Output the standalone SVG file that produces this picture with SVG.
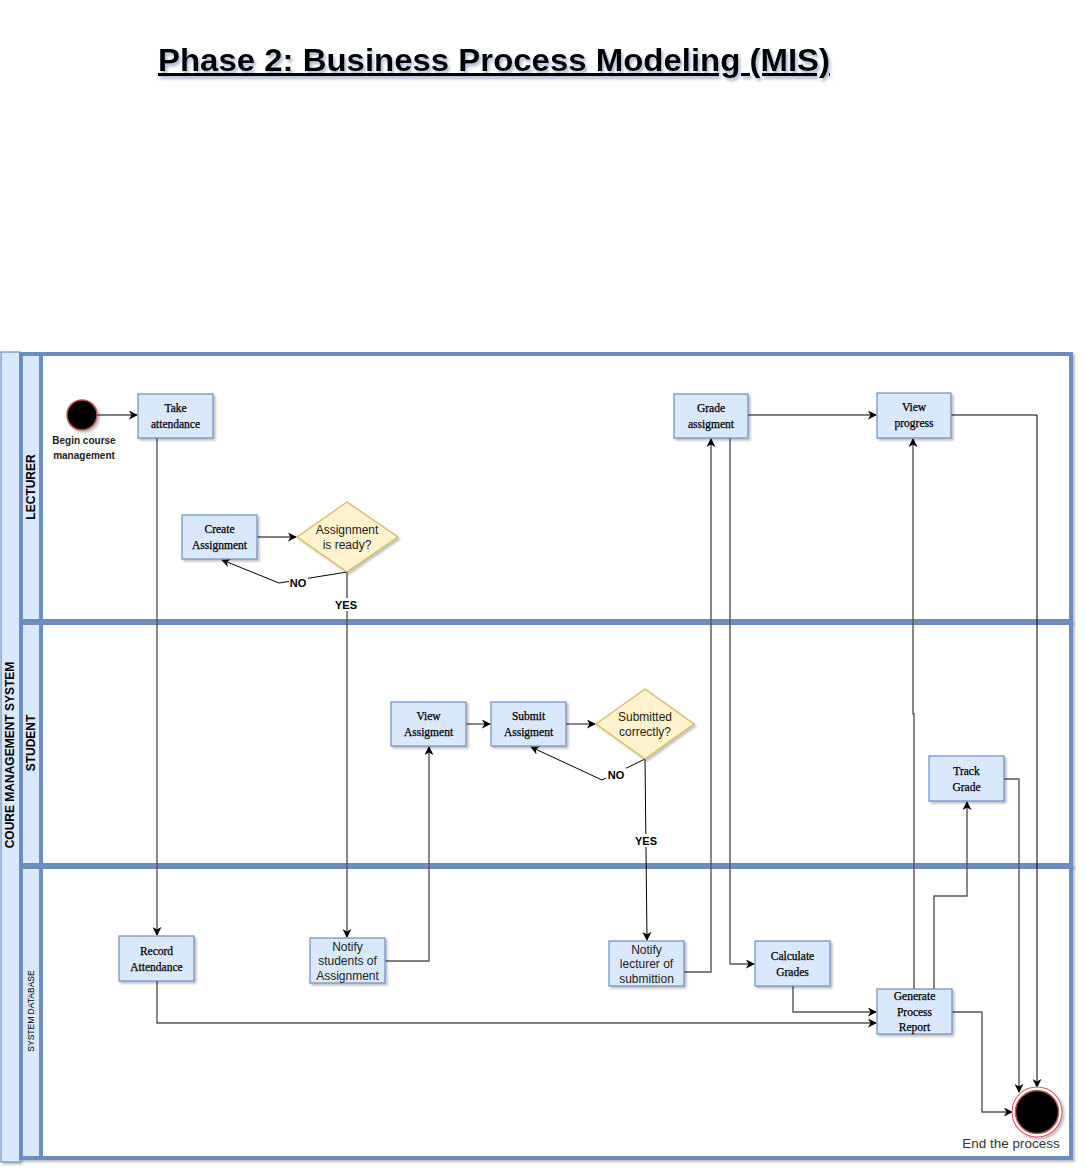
<svg xmlns="http://www.w3.org/2000/svg" width="1086" height="1175" viewBox="0 0 1086 1175">
<defs>
<filter id="sh" x="-10%" y="-10%" width="130%" height="130%">
<feDropShadow dx="2" dy="2" stdDeviation="1.2" flood-color="#000" flood-opacity="0.25"/>
</filter>
<filter id="tsh" x="-5%" y="-20%" width="110%" height="160%">
<feDropShadow dx="2" dy="3" stdDeviation="1.5" flood-color="#6a7fb0" flood-opacity="0.55"/>
</filter>
<marker id="ar" viewBox="0 0 10 10" refX="9" refY="5" markerWidth="9" markerHeight="9" markerUnits="userSpaceOnUse" orient="auto">
<path d="M0,0 L10,5 L0,10 L3,5 Z" fill="#000"/>
</marker>
</defs>
<style>
.lane{fill:#fff;stroke:#6c8ebf;stroke-width:4;filter:url(#sh)}
.hdr{fill:#dae8fc;stroke:#6c8ebf;stroke-width:4}
.box{fill:#dae8fc;stroke:#6c8ebf;stroke-width:1.2;filter:url(#sh)}
.dia{fill:#fff2cc;stroke:#d6b656;stroke-width:1.2;filter:url(#sh)}
.st{font-family:"Liberation Serif","DejaVu Serif",serif;font-size:11.5px;fill:#000;stroke:#000;stroke-width:0.25;text-anchor:middle}
.ss{font-family:"Liberation Sans",Arial,sans-serif;font-size:12px;fill:#222;text-anchor:middle}
.lbl{font-family:"Liberation Sans",Arial,sans-serif;font-size:11px;font-weight:bold;fill:#000;text-anchor:middle}
.c{fill:none;stroke:#555;stroke-width:1.4;marker-end:url(#ar)}
.cb{fill:none;stroke:#000;stroke-width:1;marker-end:url(#ar)}
</style>
<rect width="1086" height="1175" fill="#fff"/>
<text x="494" y="71" font-family="Liberation Sans,Arial,sans-serif" font-size="31" font-weight="bold" text-anchor="middle" text-decoration="underline" textLength="672" lengthAdjust="spacingAndGlyphs" filter="url(#tsh)">Phase 2: Business Process Modeling (MIS)</text>

<g id="pool">
<rect x="1" y="352" width="19" height="810" fill="#dae8fc" stroke="#6c8ebf" stroke-width="1.2" filter="url(#sh)"/>
<text transform="translate(14,755) rotate(-90)" font-family="Liberation Sans,Arial,sans-serif" font-size="12" font-weight="bold" text-anchor="middle">COURE MANAGEMENT SYSTEM</text>
</g>
<g id="lane-lecturer">
<rect class="lane" x="21" y="354" width="1050" height="267"/>
<rect class="hdr" x="21" y="354" width="20" height="267"/>
<text transform="translate(35,487) rotate(-90)" font-family="Liberation Sans,Arial,sans-serif" font-size="12" font-weight="bold" text-anchor="middle">LECTURER</text>
</g>
<g id="lane-student">
<rect class="lane" x="21" y="623" width="1050" height="242"/>
<rect class="hdr" x="21" y="623" width="20" height="242"/>
<text transform="translate(35,743) rotate(-90)" font-family="Liberation Sans,Arial,sans-serif" font-size="12" font-weight="bold" text-anchor="middle">STUDENT</text>
</g>
<g id="lane-database">
<rect class="lane" x="21" y="867" width="1050" height="291"/>
<rect class="hdr" x="21" y="867" width="20" height="291"/>
<text transform="translate(34,1011) rotate(-90)" font-family="Liberation Sans,Arial,sans-serif" font-size="8.5" text-anchor="middle">SYSTEM DATABASE</text>
</g>

<g id="connectors">
<path class="cb" d="M97,415 H137"/>
<path class="c" d="M157,438 V935"/>
<path class="c" d="M257,537 H296"/>
<path class="cb" d="M347,572 L279,583 L222,560"/>
<path class="c" d="M347,572 V937"/>
<path class="c" d="M385,961 H429 V747"/>
<path class="c" d="M466,724 H490"/>
<path class="c" d="M566,724 H595"/>
<path class="cb" d="M645,759 L602,780 L531,747"/>
<path class="cb" d="M645,759 L647,940"/>
<path class="c" d="M684,972 H711 V439"/>
<path class="c" d="M730,438 V964 H754"/>
<path class="c" d="M748,415 H876"/>
<path class="c" d="M793,986 V1012 H876"/>
<path class="c" d="M157,981 V1023 H876"/>
<path class="c" d="M914,989 V714 H913 V439"/>
<path class="c" d="M934,989 V896 H967 V802"/>
<path class="c" d="M1004,779 H1019 V1092"/>
<path class="cb" d="M951,415 H1037 V1087"/>
<path class="c" d="M952,1012 H982 V1112 H1012"/>
<rect x="289" y="576" width="19" height="13" fill="#fff"/>
<text class="lbl" x="298" y="587">NO</text>
<rect x="334" y="598" width="25" height="13" fill="#fff"/>
<text class="lbl" x="346" y="609">YES</text>
<rect x="606" y="768" width="20" height="13" fill="#fff"/>
<text class="lbl" x="616" y="779">NO</text>
<rect x="633" y="834" width="26" height="13" fill="#fff"/>
<text class="lbl" x="646" y="845">YES</text>
</g>

<g id="start">
<circle cx="82" cy="415" r="15" fill="#000" stroke="#b85450" stroke-width="1.5" filter="url(#sh)"/>
<text x="84" y="444" font-family="Liberation Sans,Arial,sans-serif" font-size="10" font-weight="bold" text-anchor="middle" fill="#222">Begin course</text>
<text x="84" y="459" font-family="Liberation Sans,Arial,sans-serif" font-size="10" font-weight="bold" text-anchor="middle" fill="#222">management</text>
</g>
<g id="take-attendance">
<rect class="box" x="138" y="394" width="75" height="44"/>
<text class="st" x="175.5" y="412">Take</text>
<text class="st" x="175.5" y="428">attendance</text>
</g>
<g id="create-assignment">
<rect class="box" x="182" y="515" width="75" height="44"/>
<text class="st" x="219.5" y="533">Create</text>
<text class="st" x="219.5" y="549">Assignment</text>
</g>
<g id="assignment-ready">
<path class="dia" d="M347,502 L398,537 L347,572 L297,537 Z"/>
<text class="ss" x="347" y="534">Assignment</text>
<text class="ss" x="347" y="549">is ready?</text>
</g>
<g id="grade-assignment">
<rect class="box" x="674" y="394" width="74" height="44"/>
<text class="st" x="711" y="412">Grade</text>
<text class="st" x="711" y="428">assigment</text>
</g>
<g id="view-progress">
<rect class="box" x="877" y="393" width="74" height="45"/>
<text class="st" x="914" y="411">View</text>
<text class="st" x="914" y="427">progress</text>
</g>
<g id="view-assignment">
<rect class="box" x="391" y="702" width="75" height="44"/>
<text class="st" x="428.5" y="720">View</text>
<text class="st" x="428.5" y="736">Assigment</text>
</g>
<g id="submit-assignment">
<rect class="box" x="491" y="702" width="75" height="44"/>
<text class="st" x="528.5" y="720">Submit</text>
<text class="st" x="528.5" y="736">Assigment</text>
</g>
<g id="submitted-correctly">
<path class="dia" d="M645,689 L694,724 L645,759 L596,724 Z"/>
<text class="ss" x="645" y="721">Submitted</text>
<text class="ss" x="645" y="736">correctly?</text>
</g>
<g id="track-grade">
<rect class="box" x="929" y="756" width="75" height="45"/>
<text class="st" x="966.5" y="775">Track</text>
<text class="st" x="966.5" y="791">Grade</text>
</g>
<g id="record-attendance">
<rect class="box" x="119" y="936" width="75" height="45"/>
<text class="st" x="156.5" y="955">Record</text>
<text class="st" x="156.5" y="971">Attendance</text>
</g>
<g id="notify-students">
<rect class="box" x="310" y="938" width="75" height="45"/>
<text class="ss" x="347.5" y="951">Notify</text>
<text class="ss" x="347.5" y="965">students of</text>
<text class="ss" x="347.5" y="980">Assignment</text>
</g>
<g id="notify-lecturer">
<rect class="box" x="609" y="941" width="75" height="45"/>
<text class="ss" x="646.5" y="954">Notify</text>
<text class="ss" x="646.5" y="968">lecturer of</text>
<text class="ss" x="646.5" y="983">submittion</text>
</g>
<g id="calculate-grades">
<rect class="box" x="755" y="941" width="75" height="45"/>
<text class="st" x="792.5" y="960">Calculate</text>
<text class="st" x="792.5" y="976">Grades</text>
</g>
<g id="generate-report">
<rect class="box" x="877" y="989" width="75" height="45"/>
<text class="st" x="914.5" y="1000">Generate</text>
<text class="st" x="914.5" y="1016">Process</text>
<text class="st" x="914.5" y="1031">Report</text>
</g>
<g id="end">
<circle cx="1037" cy="1112" r="25" fill="#fff" stroke="#e06070" stroke-width="1.2" filter="url(#sh)"/>
<circle cx="1037" cy="1112" r="21.5" fill="#000" stroke="#b85450" stroke-width="1.5"/>
<text x="1011" y="1148" font-family="Liberation Sans,Arial,sans-serif" font-size="13.5" fill="#333" text-anchor="middle">End the process</text>
</g>
</svg>
